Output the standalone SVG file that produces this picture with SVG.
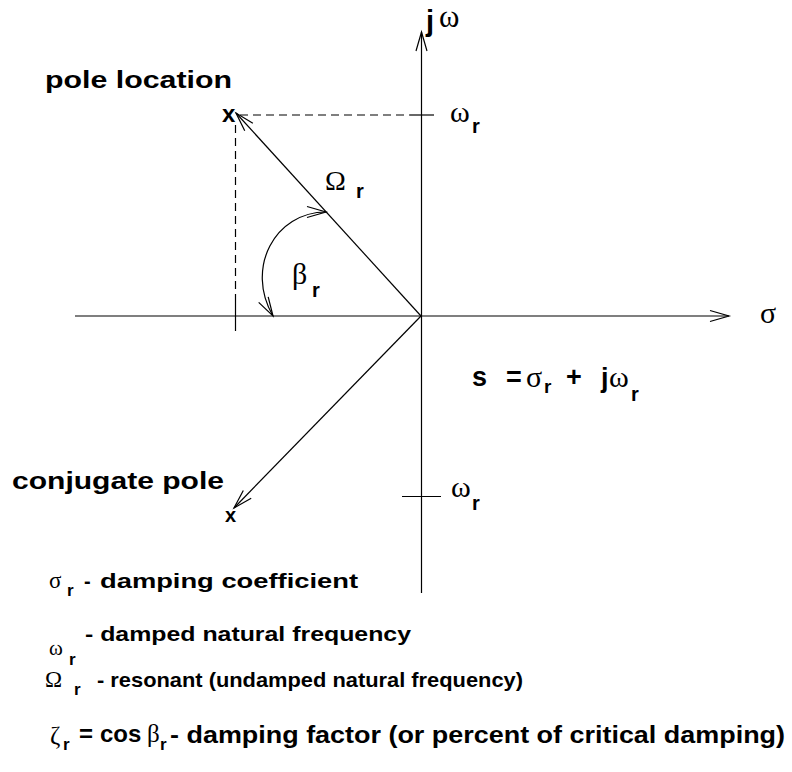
<svg xmlns="http://www.w3.org/2000/svg" width="792" height="772" viewBox="0 0 792 772">
<style>
.ln{stroke:#000;stroke-width:1.2;fill:none}
.ds{stroke:#000;stroke-width:1.2;fill:none;stroke-dasharray:8,5}
.b{font-family:"Liberation Sans",Arial,sans-serif;font-weight:bold;fill:#000}
.g{font-family:"Liberation Serif","DejaVu Serif",serif;fill:#000}
</style>
<defs>
<marker id="ah" viewBox="-21 -7 22 14" refX="0" refY="0" markerWidth="22" markerHeight="14" markerUnits="userSpaceOnUse" orient="auto-start-reverse" overflow="visible">
<path d="M-19,-5.5 L0,0 L-19,5.5" fill="none" stroke="#000" stroke-width="1.2"/>
</marker>
</defs>
<g id="connectors">
<line id="axis-sigma" class="ln" x1="75" y1="316" x2="729" y2="316" marker-end="url(#ah)"/>
<line id="axis-jw" class="ln" x1="421.5" y1="593" x2="421.5" y2="32" marker-end="url(#ah)"/>
<line id="tick-wr-top" class="ln" x1="410" y1="115" x2="434" y2="115"/>
<line id="tick-wr-bottom" class="ln" x1="402" y1="496.5" x2="441" y2="496.5"/>
<line id="tick-sigma" class="ln" x1="235.5" y1="300" x2="235.5" y2="331"/>
<line id="dash-h" class="ds" x1="240" y1="115" x2="410" y2="115"/>
<line id="dash-v" class="ds" x1="235.5" y1="125" x2="235.5" y2="300"/>
<line id="vec-pole" class="ln" x1="421" y1="316" x2="236" y2="113" marker-end="url(#ah)"/>
<line id="vec-conj" class="ln" x1="421" y1="316" x2="234" y2="508" marker-end="url(#ah)"/>
<path id="arc-beta" class="ln" d="M273,316 C245,268 275,212 326,212" marker-start="url(#ah)" marker-end="url(#ah)"/>
</g>
<g id="pole">
<text class="b" x="45" y="88" font-size="24" textLength="187" lengthAdjust="spacingAndGlyphs">pole location</text>
<text class="b" x="222" y="122" font-size="24">x</text>
</g>
<g id="conjugate">
<text class="b" x="12" y="489" font-size="24" textLength="212" lengthAdjust="spacingAndGlyphs">conjugate pole</text>
<text class="b" x="225" y="522" font-size="20">x</text>
</g>
<g id="axis-labels">
<text class="b" x="426" y="31" font-size="29">j</text>
<text class="g" x="439" y="27" font-size="31">ω</text>
<text class="g" x="760" y="323" font-size="30">σ</text>
<text class="g" x="450" y="122" font-size="30">ω</text>
<text class="b" x="472" y="133" font-size="20">r</text>
<text class="g" x="451" y="497" font-size="30">ω</text>
<text class="b" x="472" y="510" font-size="20">r</text>
<text class="g" x="325" y="190" font-size="28">Ω</text>
<text class="b" x="356" y="198" font-size="20">r</text>
<text class="g" x="292" y="284" font-size="30">β</text>
<text class="b" x="312" y="297" font-size="20">r</text>
</g>
<g id="equation">
<text class="b" x="472" y="386" font-size="27">s</text>
<text class="b" x="506" y="386" font-size="27">=</text>
<text class="g" x="526" y="387" font-size="30">σ</text>
<text class="b" x="544" y="393" font-size="19">r</text>
<text class="b" x="566" y="386" font-size="27">+</text>
<text class="b" x="601" y="387" font-size="27">j</text>
<text class="g" x="609" y="387" font-size="30">ω</text>
<text class="b" x="631" y="401" font-size="20">r</text>
</g>
<g id="legend">
<text class="g" x="49" y="588" font-size="23">σ</text>
<text class="b" x="67" y="596" font-size="17">r</text>
<text class="b" x="84" y="588" font-size="20">-</text>
<text class="b" x="100" y="588" font-size="20" textLength="258" lengthAdjust="spacingAndGlyphs">damping coefficient</text>
<text class="g" x="49" y="655" font-size="21">ω</text>
<text class="b" x="69" y="665" font-size="17">r</text>
<text class="b" x="85" y="641" font-size="20" textLength="326" lengthAdjust="spacingAndGlyphs">- damped natural frequency</text>
<text class="g" x="45" y="687" font-size="23">Ω</text>
<text class="b" x="74" y="695" font-size="17">r</text>
<text class="b" x="97" y="687" font-size="21" textLength="426" lengthAdjust="spacingAndGlyphs">- resonant (undamped natural frequency)</text>
<text class="g" x="50" y="744" font-size="25">ζ</text>
<text class="b" x="63" y="750" font-size="17">r</text>
<text class="b" x="79" y="742" font-size="24">=</text>
<text class="b" x="100" y="742" font-size="24">cos</text>
<text class="g" x="147" y="742" font-size="25">β</text>
<text class="b" x="160" y="750" font-size="17">r</text>
<text class="b" x="170" y="743" font-size="23" textLength="615" lengthAdjust="spacingAndGlyphs">- damping factor (or percent of critical damping)</text>
</g>
</svg>
